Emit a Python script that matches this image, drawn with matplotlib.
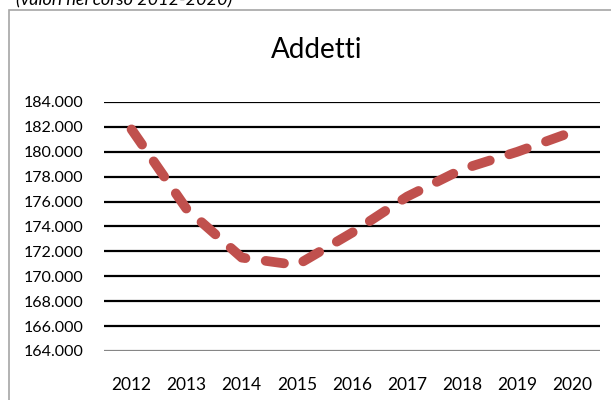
import matplotlib
matplotlib.use("Agg")
import matplotlib.pyplot as plt
from matplotlib.patches import Rectangle

years = ["2012", "2013", "2014", "2015", "2016", "2017", "2018", "2019", "2020"]
addetti = [181.8, 175.4, 171.5, 170.9, 173.5, 176.4, 178.6, 180.0, 181.6]
yticks = [164, 166, 168, 170, 172, 174, 176, 178, 180, 182, 184]
ytick_labels = ["164.000", "166.000", "168.000", "170.000", "172.000", "174.000",
                "176.000", "178.000", "180.000", "182.000", "184.000"]
title = "Addetti"
top_note = "(valori nel corso 2012-2020)"

W, H = 611, 400
fig = plt.figure(figsize=(W / 100, H / 100), dpi=100)
plt.rcParams['font.family'] = ['Lato', 'DejaVu Sans']

# chart border
fig.patches.append(Rectangle((8.5 / W, -0.1), 1.0, (H - 10) / H + 0.1, transform=fig.transFigure,
                             fill=False, edgecolor="#a6a6a6", linewidth=1.2))

fig.text(232 / W, (H - 5) / H, top_note, ha="right", va="baseline", fontsize=13,
         style="italic", color="#000000")

left, right, top, bottom = 104, 600, 102, 351
ax = fig.add_axes([left / W, 1 - bottom / H, (right - left) / W, (bottom - top) / H])
x = list(range(len(years)))
ax.set_xlim(-0.5, len(years) - 0.5)
ax.set_ylim(164, 184)
for v in yticks[1:]:
    ax.axhline(v, color="black", linewidth=1.6, zorder=1)
ax.axhline(164, color="#868686", linewidth=1.6, zorder=1)

ax.plot(x, addetti, color="#C0504D", linewidth=7, linestyle=(0, (1.9, 2.1)),
        dash_capstyle="round", solid_capstyle="round", zorder=3)

for s in ax.spines.values():
    s.set_visible(False)
ax.set_yticks(yticks)
ax.set_yticklabels(ytick_labels, fontsize=11.5)
ax.set_xticks(x)
ax.set_xticklabels(years, fontsize=12.5)
ax.tick_params(axis="both", length=0)
ax.tick_params(axis="y", pad=15)
ax.tick_params(axis="x", pad=19)

fig.text(317 / W, 1 - 50 / H, title, ha="center", va="center", fontsize=20)

fig.savefig("out.png", dpi=100)
